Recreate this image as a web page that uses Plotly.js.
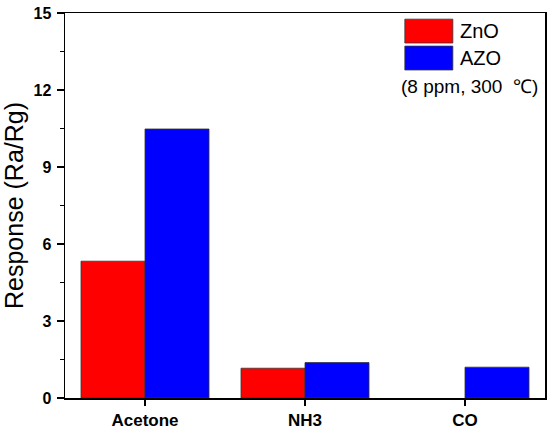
<!DOCTYPE html>
<html>
<head>
<meta charset="utf-8">
<script src="https://cdn.plot.ly/plotly-3.0.1.min.js"></script>
<style>html,body{margin:0;padding:0;background:#fff;}#chart{width:550px;height:431px;}</style>
</head>
<body>
<div id="chart"></div>
<script>
const categories = ["Acetone", "NH3", "CO"];
const znoValues = [5.33, 1.16, 0];
const azoValues = [10.48, 1.38, 1.2];
const yTicks = [0, 3, 6, 9, 12, 15];
const seriesNames = ["ZnO", "AZO"];
const seriesColors = ["#ff0000", "#0000ff"];
const noteText = "(8 ppm, 300  ℃)";

const traces = [
  {type: "bar", x: categories, y: znoValues, name: seriesNames[0],
   marker: {color: seriesColors[0], line: {color: "#333333", width: znoValues.map(v => v > 0 ? 0.8 : 0)}}, showlegend: false},
  {type: "bar", x: categories, y: azoValues, name: seriesNames[1],
   marker: {color: seriesColors[1], line: {color: "#333333", width: 0.8}}, showlegend: false}
];

const layout = {
  width: 550, height: 431,
  margin: {l: 65, r: 5, t: 13, b: 33},
  paper_bgcolor: "#fff", plot_bgcolor: "#fff",
  barmode: "group", bargap: 0.2, bargroupgap: 0,
  font: {family: "Arial, Liberation Sans, sans-serif", color: "#000"},
  xaxis: {
    type: "category", range: [-0.5, 2.5],
    showline: true, linecolor: "#000", linewidth: 1.5, mirror: true,
    ticks: "outside", ticklen: 6, tickwidth: 1.5, tickcolor: "#000",
    tickfont: {family: "Arial, Liberation Sans, sans-serif", size: 17, color: "#000", weight: "bold"},
    showgrid: false, zeroline: false
  },
  yaxis: {
    range: [0, 15], tickvals: yTicks,
    showline: true, linecolor: "#000", linewidth: 1.5, mirror: true,
    ticks: "outside", ticklen: 7, tickwidth: 1.5, tickcolor: "#000",
    minor: {dtick: 1.5, ticks: "outside", ticklen: 4, tickwidth: 1.2, tickcolor: "#000", showgrid: false},
    tickfont: {family: "Arial, Liberation Sans, sans-serif", size: 16, color: "#000", weight: "bold"},
    ticklabelstandoff: 2,
    showgrid: false, zeroline: false,
    title: {text: "Response (Ra/Rg)", font: {family: "Arial, Liberation Sans, sans-serif", size: 25, color: "#000"}, standoff: 5}
  },
  shapes: [
    {type: "rect", xref: "paper", yref: "paper", x0: 0.708, x1: 0.808, y0: 0.922, y1: 0.984, fillcolor: seriesColors[0], line: {color: "#333", width: 0.8}},
    {type: "rect", xref: "paper", yref: "paper", x0: 0.708, x1: 0.808, y0: 0.852, y1: 0.914, fillcolor: seriesColors[1], line: {color: "#333", width: 0.8}}
  ],
  annotations: [
    {xref: "paper", yref: "paper", x: 0.819, y: 0.953, xanchor: "left", yanchor: "middle", text: seriesNames[0], showarrow: false, font: {size: 20, color: "#000"}},
    {xref: "paper", yref: "paper", x: 0.819, y: 0.883, xanchor: "left", yanchor: "middle", text: seriesNames[1], showarrow: false, font: {size: 20, color: "#000"}},
    {xref: "paper", yref: "paper", x: 0.99, y: 0.808, xanchor: "right", yanchor: "middle", text: noteText, showarrow: false, font: {size: 19, color: "#000"}}
  ]
};

Plotly.newPlot("chart", traces, layout, {displayModeBar: false, staticPlot: true});
</script>
</body>
</html>
